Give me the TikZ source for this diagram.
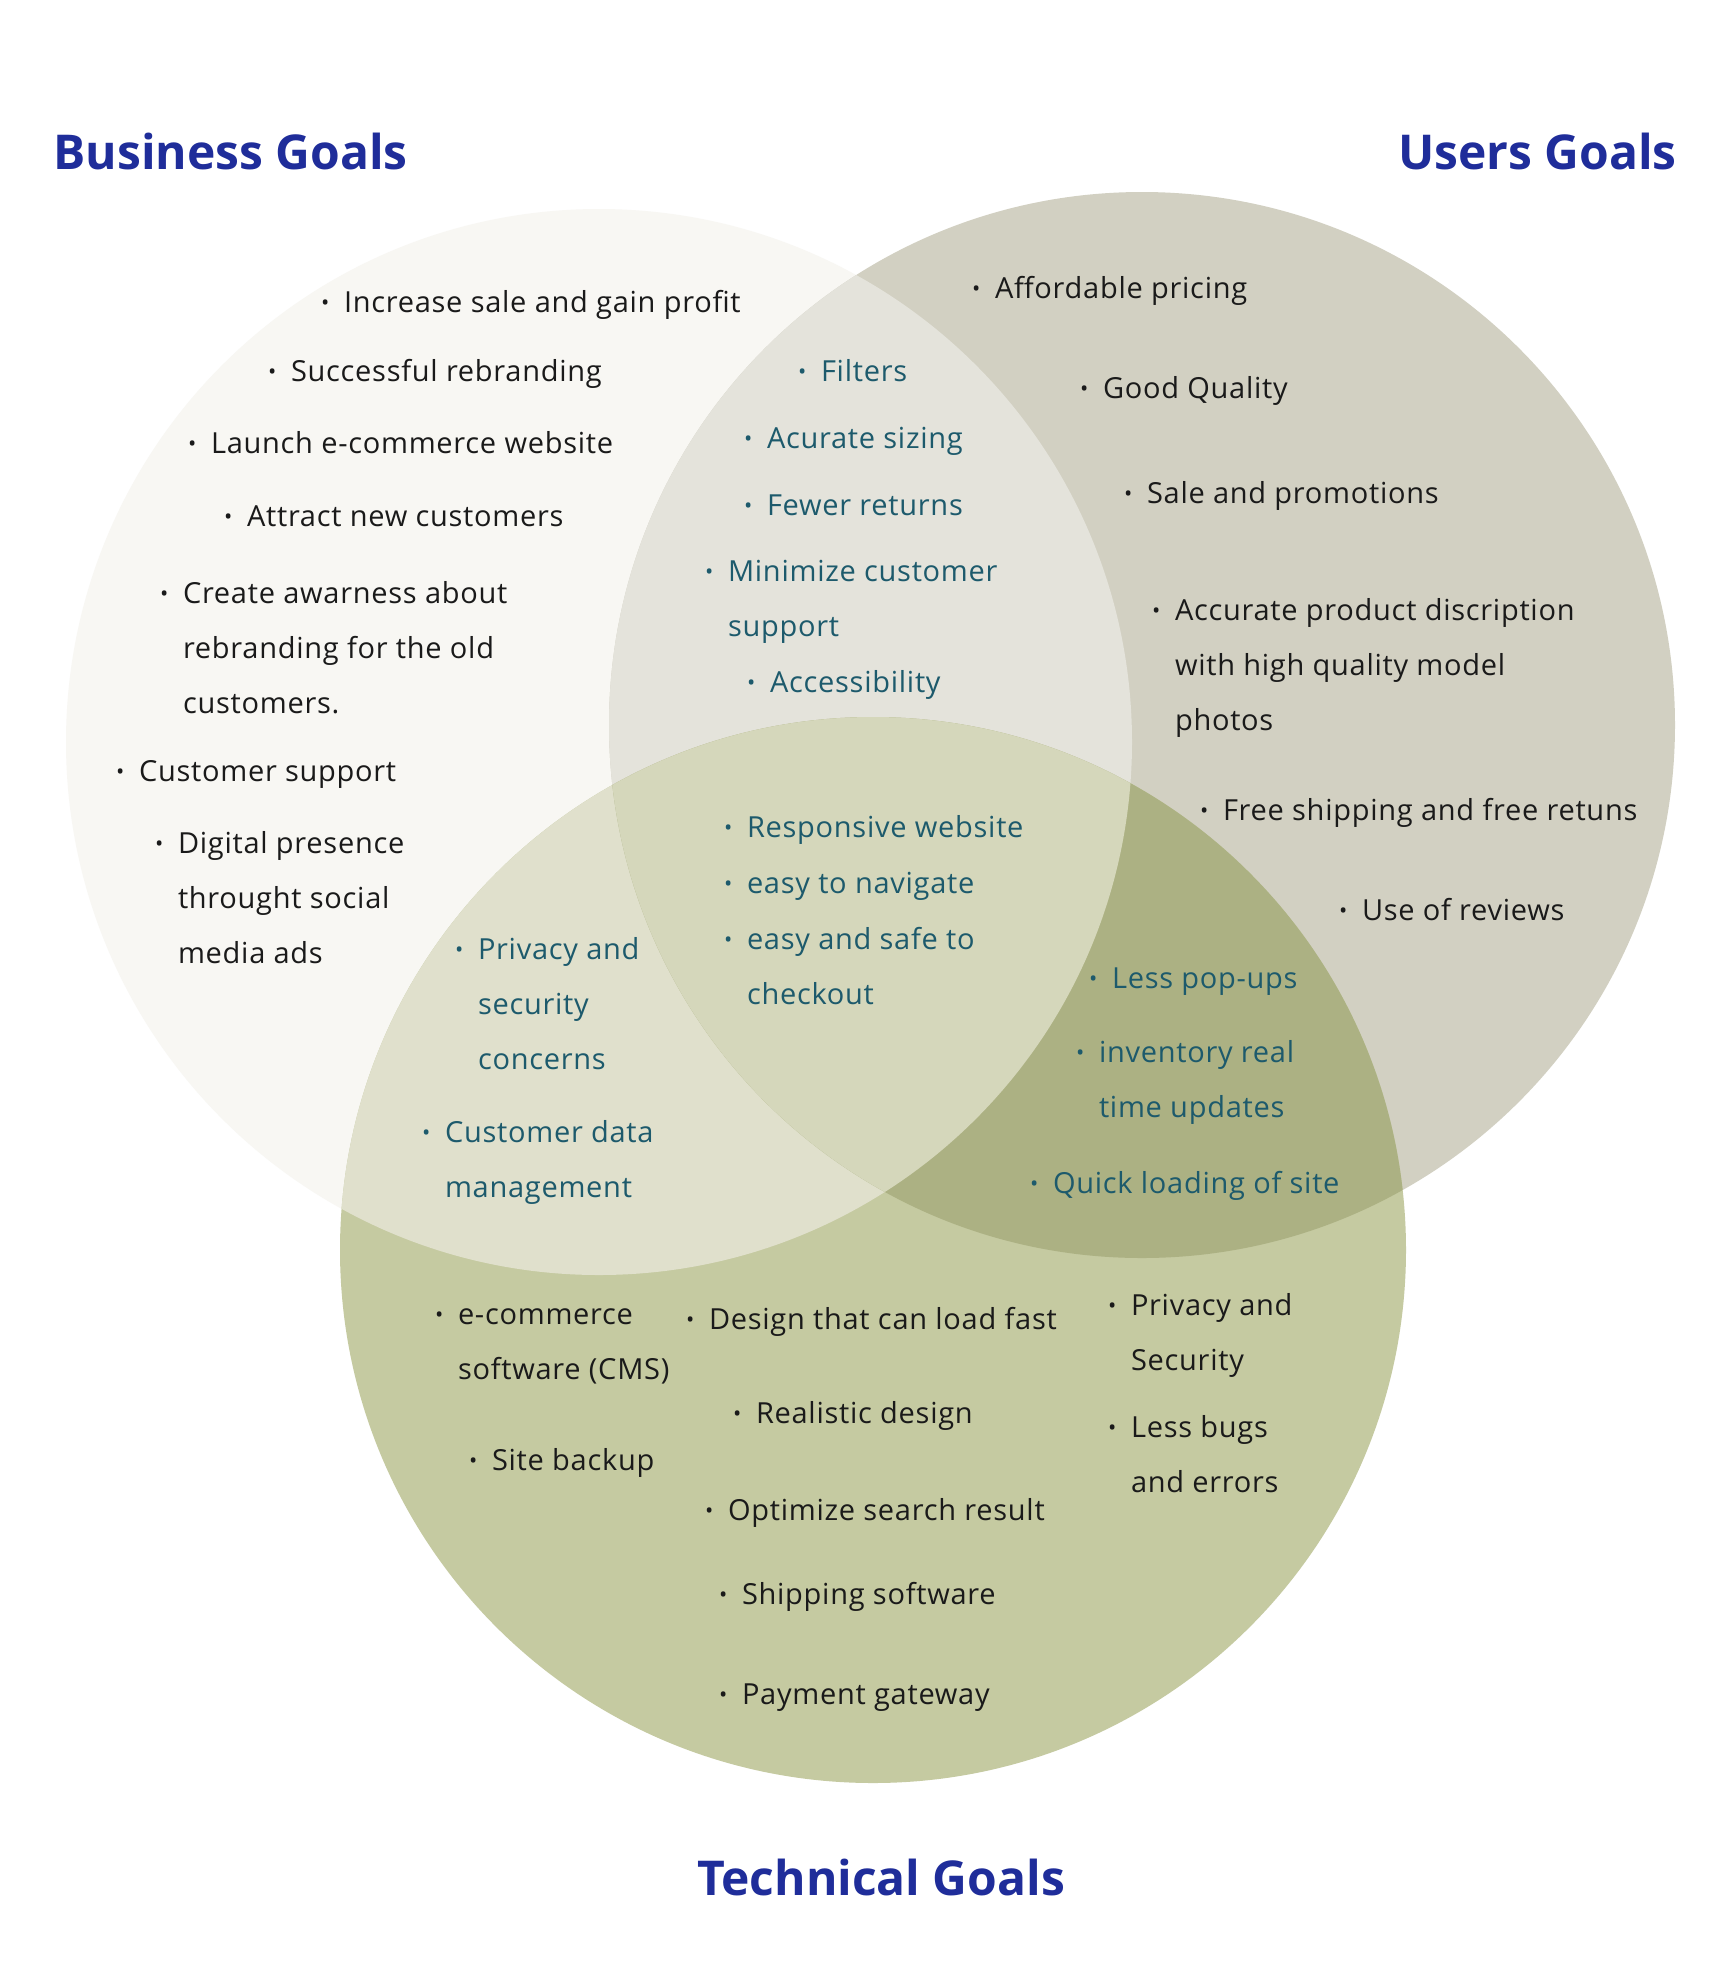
\documentclass[tikz,border=0pt]{standalone}
\usepackage{fontspec}
\setmainfont{Open Sans}
\newfontfamily\itemfont[LetterSpace=2.5]{Open Sans}
\definecolor{cB}{HTML}{F8F7F3}
\definecolor{cU}{HTML}{D2D0C2}
\definecolor{cT}{HTML}{C5CAA1}
\definecolor{cBU}{HTML}{E4E3DB}
\definecolor{cBT}{HTML}{E0E0CC}
\definecolor{cUT}{HTML}{ACB183}
\definecolor{cBUT}{HTML}{D5D7BB}
\definecolor{ink}{HTML}{1A1A1A}
\definecolor{tealc}{HTML}{1D5A6C}
\definecolor{titleblue}{HTML}{1F2D9A}
\newcommand{\itm}[1]{\makebox[11.5pt][l]{\raisebox{0.1ex}{\fontsize{11}{11}\selectfont •}}\begin{tabular}[t]{@{}l@{}}#1\end{tabular}}
\tikzset{
  item/.style={anchor=base west, inner sep=0pt, outer sep=0pt, font=\itemfont\fontsize{14.5}{27.7}\selectfont, text=ink},
  titem/.style={item, text=tealc},
  goaltitle/.style={inner sep=0pt, font=\fontsize{24}{30}\selectfont\bfseries, text=titleblue}
}
\begin{document}
\begin{tikzpicture}[x=0.5pt,y=-0.5pt]
\useasboundingbox (0,0) rectangle (1736,1972);
\fill[white] (0,0) rectangle (1736,1972);
\def\BC{(599,742) circle (266.5pt)}
\def\UC{(1142,725) circle (266.5pt)}
\def\TC{(873,1250) circle (266.5pt)}
\fill[cB] \BC;
\fill[cU] \UC;
\fill[cT] \TC;
\begin{scope}\clip \BC; \fill[cBU] \UC; \end{scope}
\begin{scope}\clip \BC; \fill[cBT] \TC; \end{scope}
\begin{scope}\clip \UC; \fill[cUT] \TC; \end{scope}
\begin{scope}\clip \BC; \clip \UC; \fill[cBUT] \TC; \end{scope}

% titles
\node[goaltitle, anchor=west] (tb) at (53,151) {Business Goals};
\node[goaltitle, anchor=east] (tu) at (1677,151) {Users Goals};
\node[goaltitle] (tt) at (881,1877) {Technical Goals};

% Business only
\node[item] (b1) at (321,312) {\itm{Increase sale and gain profit}};
\node[item] (b2) at (268,381) {\itm{Successful rebranding}};
\node[item] (b3) at (188,453) {\itm{Launch e-commerce website}};
\node[item] (b4) at (224,526) {\itm{Attract new customers}};
\node[item] (b5) at (160,603) {\itm{Create awarness about\\rebranding for the old\\customers.}};
\node[item] (b6) at (116,781) {\itm{Customer support}};
\node[item] (b7) at (155,853) {\itm{Digital presence\\throught social\\media ads}};

% Business & Users
\node[titem] (bu1) at (798,381) {\itm{Filters}};
\node[titem] (bu2) at (744,448) {\itm{Acurate sizing}};
\node[titem] (bu3) at (744,515) {\itm{Fewer returns}};
\node[titem] (bu4) at (705,581) {\itm{Minimize customer\\support}};
\node[titem] (bu5) at (747,692) {\itm{Accessibility}};

% Users only
\node[item] (u1) at (972,298) {\itm{Affordable pricing}};
\node[item] (u2) at (1080,398) {\itm{Good Quality}};
\node[item] (u3) at (1124,503) {\itm{Sale and promotions}};
\node[item] (u4) at (1152,620) {\itm{Accurate product discription\\with high quality model\\photos}};
\node[item] (u5) at (1200,820) {\itm{Free shipping and free retuns}};
\node[item] (u6) at (1339,920) {\itm{Use of reviews}};

% center
\node[titem] (c1) at (724,837) {\itm{Responsive website}};
\node[titem] (c2) at (724,893) {\itm{easy to navigate}};
\node[titem] (c3) at (724,949) {\itm{easy and safe to\\checkout}};

% Business & Technical
\node[titem] (bt1) at (455,959) {\itm{Privacy and\\security\\concerns}};
\node[titem] (bt2) at (422,1142) {\itm{Customer data\\management}};

% Users & Technical
\node[titem] (ut1) at (1089,988) {\itm{Less pop-ups}};
\node[titem] (ut2) at (1076,1062) {\itm{inventory real\\time updates}};
\node[titem] (ut3) at (1030,1193) {\itm{Quick loading of site}};

% Technical only
\node[item] (t1) at (435,1324) {\itm{e-commerce\\software (CMS)}};
\node[item] (t2) at (469,1470) {\itm{Site backup}};
\node[item] (t3) at (686,1329) {\itm{Design that can load fast}};
\node[item] (t4) at (733,1423) {\itm{Realistic design}};
\node[item] (t5) at (705,1520) {\itm{Optimize search result}};
\node[item] (t6) at (719,1604) {\itm{Shipping software}};
\node[item] (t7) at (719,1704) {\itm{Payment gateway}};
\node[item] (t8) at (1108,1315) {\itm{Privacy and\\Security}};
\node[item] (t9) at (1108,1437) {\itm{Less bugs\\and errors}};
\end{tikzpicture}
\end{document}
